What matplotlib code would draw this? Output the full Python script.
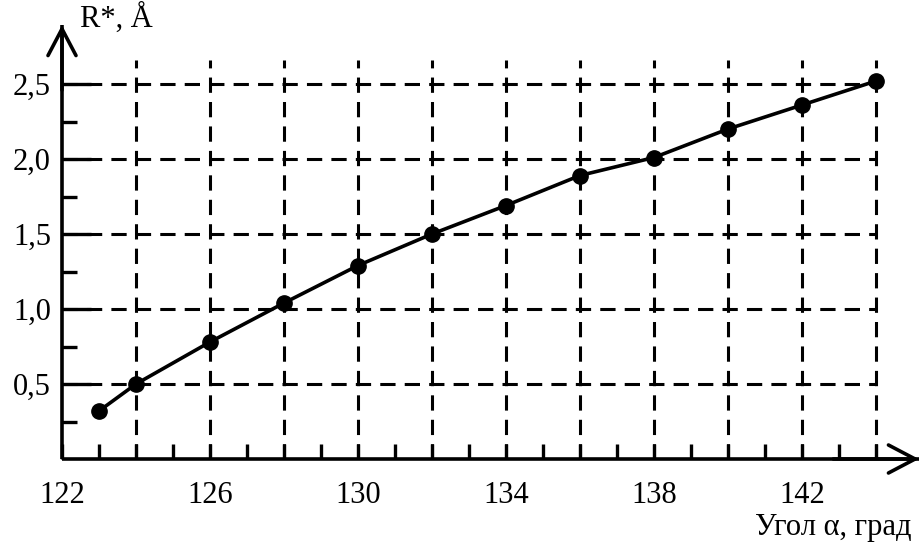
import matplotlib
matplotlib.use("Agg")
import matplotlib.pyplot as plt
import numpy as np

angle = [123, 124, 126, 128, 130, 132, 134, 136, 138, 140, 142, 144]
r_star = [0.32, 0.50, 0.78, 1.04, 1.29, 1.50, 1.69, 1.89, 2.01, 2.20, 2.36, 2.52]
x_labels = [122, 126, 130, 134, 138, 142]
y_labels = [0.5, 1.0, 1.5, 2.0, 2.5]
x_grid = [124, 126, 128, 130, 132, 134, 136, 138, 140, 142, 144]

plt.rcParams['font.family'] = ['Liberation Serif', 'DejaVu Serif']

W, H = 922, 546
fig = plt.figure(figsize=(W / 100, H / 100), dpi=100)
x0px, x1px = 62, 919
y0px, y1px = 459, 25
ax = fig.add_axes([x0px / W, (H - y0px) / H, (x1px - x0px) / W, (y0px - y1px) / H])
xmin = 122
xmax = xmin + (x1px - x0px) / 37.0
ymax = (y0px - y1px) / 150.0
ax.set_xlim(xmin, xmax)
ax.set_ylim(0, ymax)

for s in ['top', 'right']:
    ax.spines[s].set_visible(False)
for s in ['left', 'bottom']:
    ax.spines[s].set_linewidth(2.6)
    ax.spines[s].set_capstyle('butt')

# arrows
astyle = '->,head_length=0.4,head_width=0.21'
ax.annotate('', xy=(1.0, 0), xytext=(0.9, 0), xycoords='axes fraction',
            arrowprops=dict(arrowstyle=astyle, lw=2.6, color='black',
                            mutation_scale=48, shrinkA=0, shrinkB=0))
ax.annotate('', xy=(0, 1.0), xytext=(0, 0.85), xycoords='axes fraction',
            arrowprops=dict(arrowstyle=astyle, lw=2.6, color='black',
                            mutation_scale=48, shrinkA=0, shrinkB=0))

# dashed grid
dash = (0, (5.0, 3.0))
for xv in x_grid:
    ax.plot([xv, xv], [0, 2.66], color='black', lw=2.2, linestyle=dash, zorder=1)
for yv in y_labels:
    ax.plot([xmin, 144], [yv, yv], color='black', lw=2.2, linestyle=dash, zorder=1)

# ticks
ax.set_xticks(x_labels)
ax.set_xticklabels([str(v) for v in x_labels])
ax.set_xticks(np.arange(123, 145, 1), minor=True)
ax.set_yticks(y_labels)
ax.set_yticklabels([f"{v:.1f}".replace('.', ',') for v in y_labels])
ax.set_yticks(np.arange(0.25, 2.6, 0.25), minor=True)
ax.tick_params(axis='x', which='both', direction='in', length=11, width=2.4,
               labelsize=22, pad=16)
ax.tick_params(axis='y', which='major', direction='in', length=21, width=2.4,
               labelsize=22, pad=8)
ax.tick_params(axis='y', which='minor', direction='in', length=11, width=2.4)

ax.plot(angle, r_star, color='black', lw=2.6, marker='o', markersize=11, zorder=3)

fig.text(80 / W, 1 - 18 / H, 'R*, Å', fontsize=22, ha='left', va='center')
fig.text(912 / W, 1 - 527 / H, 'Угол α, град', fontsize=22, ha='right', va='center')

fig.savefig('out.png', dpi=100)
